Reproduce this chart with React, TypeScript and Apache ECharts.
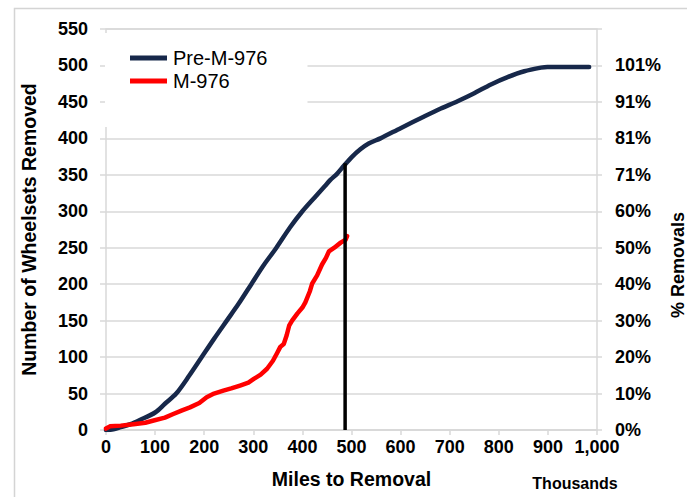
import React, { useEffect, useRef } from "react";
import * as echarts from "echarts";

// ---- data ----
const preM976Miles = [0, 15, 30, 50, 70, 100, 120, 143, 170, 195, 220, 246, 270, 296, 320, 347, 375, 400, 425, 445, 457, 470, 484, 500, 518, 535, 559, 600, 648, 682, 716, 750, 784, 818, 852, 886, 899, 984];
const preM976Count = [0, 1, 4, 8, 14, 24, 36, 50, 75, 100, 125, 150, 173, 200, 225, 250, 278, 300, 319, 334, 343, 351, 362, 374, 385, 393, 400, 414, 430, 441, 451, 462, 474, 484, 492, 497, 498, 498];

const m976Miles = [0, 8, 30, 56, 80, 97, 120, 137, 155, 171, 190, 205, 220, 239, 255, 273, 290, 301, 315, 328, 340, 348, 355, 362, 368, 373, 379, 390, 400, 406, 415, 420, 430, 440, 448, 454, 465, 478, 488, 491];
const m976Count = [2, 5, 6, 8, 10, 13, 17, 22, 27, 31, 37, 45, 50, 54, 57, 61, 65, 70, 76, 84, 95, 105, 114, 118, 130, 143, 150, 160, 168, 175, 190, 201, 212, 227, 236, 245, 250, 257, 261, 266];

const cutoffMiles = [487, 487];
const cutoffCount = [0, 366];

const rightTickLabels = ["0%", "10%", "20%", "30%", "40%", "50%", "60%", "71%", "81%", "91%", "101%"];
const xTickLabels = ["0", "100", "200", "300", "400", "500", "600", "700", "800", "900", "1,000"];

const seriesNames = ["Pre-M-976", "M-976"];

const FONT = "'Liberation Sans', Arial, Helvetica, sans-serif";
const GRID_COLOR = "#d9d9d9";

function zip(xs: number[], ys: number[]) {
  return xs.map((x, i) => [x, ys[i]]);
}

export default function App() {
  const ref = useRef<HTMLDivElement>(null);

  useEffect(() => {
    if (!ref.current) return;
    const chart = echarts.init(ref.current, null, { renderer: "svg" });
    const labelStyle = { color: "#000", fontFamily: FONT, fontWeight: "bold" as const, fontSize: 18 };
    chart.setOption({
      animation: false,
      backgroundColor: "#fff",
      grid: {
        left: 106,
        right: 90,
        top: 29,
        bottom: 67,
        show: true,
        borderColor: GRID_COLOR,
        borderWidth: 1.5,
        backgroundColor: "transparent",
      },
      legend: {
        data: seriesNames,
        orient: "vertical",
        left: 105,
        top: 33,
        padding: [15, 40, 36, 25],
        backgroundColor: "#fff",
        icon: "rect",
        itemWidth: 37,
        itemHeight: 5,
        itemGap: 3,
        itemStyle: { borderWidth: 0 },
        textStyle: { color: "#000", fontFamily: FONT, fontSize: 20, lineHeight: 20, padding: [0, 0, 0, 1] },
      },
      xAxis: {
        type: "value",
        min: 0,
        max: 1000,
        interval: 100,
        name: "Miles to Removal",
        nameLocation: "middle",
        nameGap: 39,
        nameTextStyle: { color: "#000", fontFamily: FONT, fontWeight: "bold", fontSize: 19.5 },
        axisLine: { show: true, lineStyle: { color: GRID_COLOR, width: 1.5 } },
        axisTick: { show: true, length: 5, lineStyle: { color: GRID_COLOR, width: 1.5 } },
        splitLine: { show: false },
        axisLabel: {
          ...labelStyle,
          margin: 8,
          formatter: (v: number) => xTickLabels[Math.round(v / 100)] ?? "",
        },
      },
      yAxis: [
        {
          type: "value",
          min: 0,
          max: 550,
          interval: 50,
          position: "left",
          name: "Number of Wheelsets Removed",
          nameLocation: "middle",
          nameRotate: 90,
          nameGap: 67,
          nameTextStyle: { color: "#000", fontFamily: FONT, fontWeight: "bold", fontSize: 19.5 },
          axisLine: { show: false },
          axisTick: { show: true, length: 6, lineStyle: { color: GRID_COLOR, width: 1.5 } },
          splitLine: { show: true, lineStyle: { color: GRID_COLOR, width: 1.5 } },
          axisLabel: { ...labelStyle, margin: 18 },
        },
        {
          type: "value",
          min: 0,
          max: 550,
          interval: 50,
          position: "right",
          axisLine: { show: false },
          axisTick: { show: true, length: 5, lineStyle: { color: GRID_COLOR, width: 1.5 } },
          splitLine: { show: false },
          axisLabel: {
            ...labelStyle,
            margin: 18,
            formatter: (v: number) => rightTickLabels[Math.round(v / 50)] ?? "",
          },
        },
      ],
      graphic: [
        {
          type: "rect",
          shape: { x: 14.5, y: 8.5, width: 720, height: 540 },
          style: { fill: "none", stroke: "#d4d4d4", lineWidth: 1.5 },
          silent: true,
          z: -10,
        },
        {
          type: "text",
          x: 678,
          y: 265,
          rotation: Math.PI / 2,
          style: {
            text: "% Removals",
            font: `bold 18px ${FONT}`,
            fill: "#000",
            textAlign: "center",
            textVerticalAlign: "middle",
          },
        },
        {
          type: "text",
          x: 575,
          y: 483,
          style: {
            text: "Thousands",
            font: `bold 16px ${FONT}`,
            fill: "#000",
            textAlign: "center",
            textVerticalAlign: "middle",
          },
        },
      ],
      series: [
        {
          name: seriesNames[0],
          type: "line",
          data: zip(preM976Miles, preM976Count),
          showSymbol: false,
          symbol: "none",
          smooth: 0.3,
          color: "#17284A",
          lineStyle: { color: "#17284A", width: 4.5, join: "round", cap: "round" },
          z: 3,
        },
        {
          name: seriesNames[1],
          type: "line",
          data: zip(m976Miles, m976Count),
          showSymbol: false,
          symbol: "none",
          color: "#FF0000",
          lineStyle: { color: "#FF0000", width: 4.5, join: "round", cap: "round" },
          z: 3,
        },
        {
          name: "cutoff",
          type: "line",
          data: zip(cutoffMiles, cutoffCount),
          showSymbol: false,
          symbol: "none",
          color: "#000",
          lineStyle: { color: "#000", width: 3.5 },
          z: 4,
        },
      ],
    });
    return () => chart.dispose();
  }, []);

  return (
    <div
      ref={ref}
      style={{ position: "fixed", left: 0, top: 0, width: 687, height: 497, background: "#fff" }}
    />
  );
}
